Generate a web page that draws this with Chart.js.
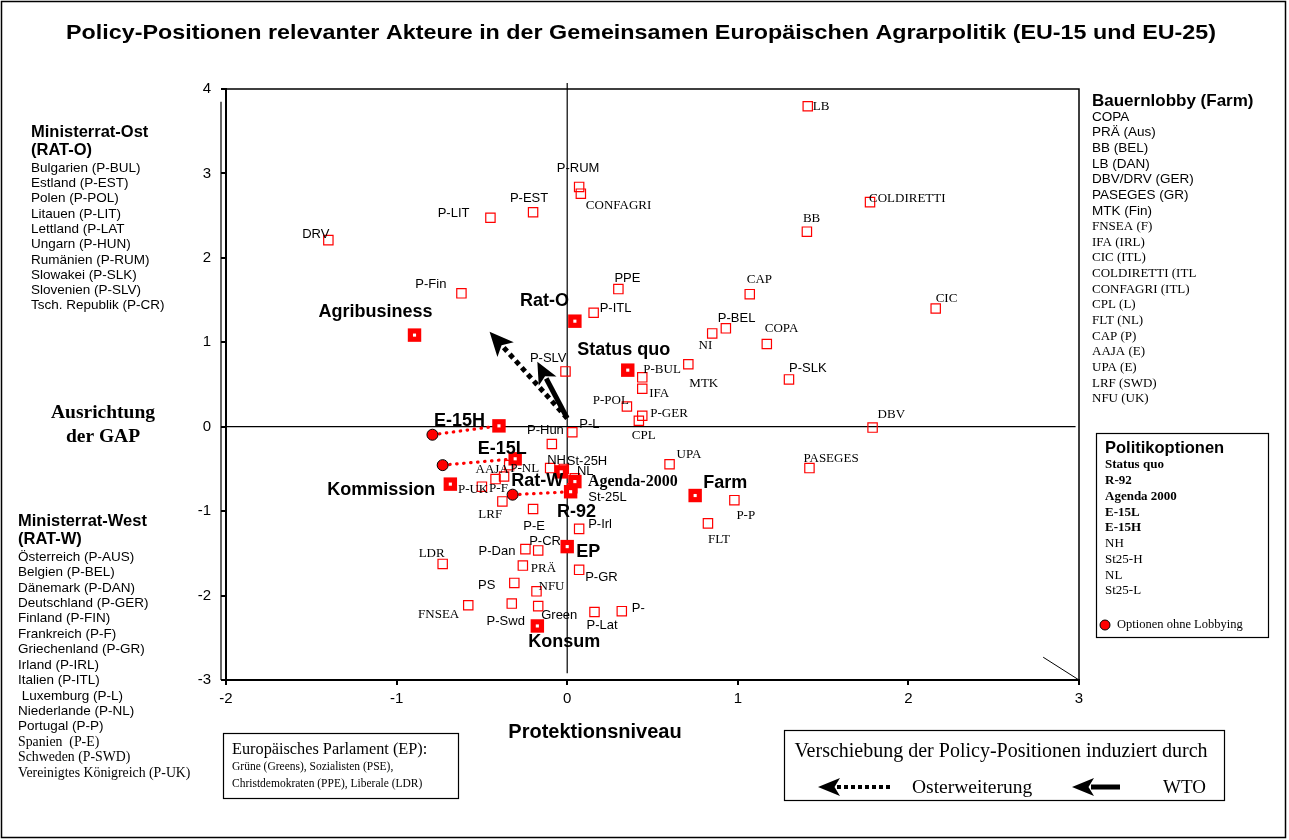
<!DOCTYPE html>
<html>
<head>
<meta charset="utf-8">
<script src="https://cdn.jsdelivr.net/npm/chart.js@4.4.0/dist/chart.umd.min.js"></script>
<style>
  body { margin: 0; background: #fff; }
  #wrap { width: 1289px; height: 840px; position: relative; }
</style>
</head>
<body>
<div id="wrap"><canvas id="policy-chart" width="1289" height="840"></canvas></div>
<script>
// Akteure (kleine Quadrate)
const actorNames = ['DRV', 'P-LIT', 'P-EST', 'P-RUM', 'CONFAGRI', 'P-Fin', 'PPE', 'P-ITL', 'LB', 'COLDIRETTI',
    'BB', 'CAP', 'CIC', 'P-BEL', 'NI', 'COPA', 'MTK', 'P-BUL', 'IFA', 'P-SLK',
    'DBV', 'UPA', 'PASEGES', 'P-P', 'FLT', 'P-GER', 'CPL', 'P-POL', 'P-SLV', 'P-L',
    'P-Hun', 'P-NL', 'NH', 'St-25H', 'NL', 'St-25L', 'P-UK', 'AAJA', 'P-F', 'LRF',
    'P-E', 'P-Irl', 'P-CR', 'P-Dan', 'LDR', 'PRÄ', 'P-GR', 'PS', 'NFU', 'FNSEA',
    'P-Swd', 'Green', 'P-Lat', 'P-'];
const actorX = [-1.40, -0.45, -0.20, 0.07, 0.08, -0.62, 0.30, 0.155, 1.41, 1.775,
    1.405, 1.07, 2.16, 0.93, 0.85, 1.17, 0.71, 0.44, 0.44, 1.30,
    1.79, 0.60, 1.42, 0.98, 0.825, 0.44, 0.42, 0.35, -0.01, 0.03,
    -0.09, -0.34, -0.10, -0.02, 0.045, 0.03, -0.50, -0.42, -0.37, -0.38,
    -0.20, 0.07, -0.17, -0.245, -0.73, -0.26, 0.07, -0.31, -0.18, -0.58,
    -0.325, -0.17, 0.16, 0.32];
const actorY = [2.21, 2.475, 2.54, 2.84, 2.76, 1.58, 1.63, 1.35, 3.795, 2.66,
    2.31, 1.57, 1.40, 1.165, 1.105, 0.98, 0.74, 0.585, 0.45, 0.56,
    -0.01, -0.445, -0.49, -0.87, -1.145, 0.13, 0.07, 0.24, 0.655, -0.065,
    -0.205, -0.455, -0.49, -0.50, -0.61, -0.73, -0.71, -0.62, -0.59, -0.885,
    -0.975, -1.21, -1.465, -1.45, -1.625, -1.645, -1.695, -1.85, -1.95, -2.115,
    -2.095, -2.125, -2.195, -2.185];

// Politikoptionen und Gruppen (große Quadrate)
const optionNames = ['Agribusiness', 'Rat-O', 'Status quo', 'E-15H', 'E-15L', 'Rat-W', 'Agenda-2000', 'R-92',
    'Kommission', 'Farm', 'EP', 'Konsum'];
const optionX = [-0.895, 0.045, 0.355, -0.40, -0.305, -0.035, 0.045, 0.02, -0.685, 0.75, 0.0, -0.175];
const optionY = [1.085, 1.25, 0.67, 0.01, -0.38, -0.535, -0.65, -0.77, -0.68, -0.815, -1.42, -2.36];

// Optionen ohne Lobbying (Kreise)
const noLobbyNames = ['E-15H', 'E-15L', 'R-92'];
const noLobbyX = [-0.79, -0.73, -0.32];
const noLobbyY = [-0.095, -0.455, -0.805];

// Verschiebung durch Osterweiterung / WTO
const shiftStart = [0, 0.10];
const osterTip = [-0.455, 1.125];
const wtoTip = [-0.175, 0.77];

const cornerMarkX = [2.79, 3.0];
const cornerMarkY = [-2.73, -3.0];

const xTicks = [-2, -1, 0, 1, 2, 3];
const yTicks = [-3, -2, -1, 0, 1, 2, 3, 4];

const ratOst = ['Bulgarien (P-BUL)', 'Estland (P-EST)', 'Polen (P-POL)', 'Litauen (P-LIT)', 'Lettland (P-LAT',
    'Ungarn (P-HUN)', 'Rumänien (P-RUM)', 'Slowakei (P-SLK)', 'Slovenien (P-SLV)', 'Tsch. Republik (P-CR)'];
const ratWest = ['Österreich (P-AUS)', 'Belgien (P-BEL)', 'Dänemark (P-DAN)', 'Deutschland (P-GER)', 'Finland (P-FIN)',
    'Frankreich (P-F)', 'Griechenland (P-GR)', 'Irland (P-IRL)', 'Italien (P-ITL)', ' Luxemburg (P-L)',
    'Niederlande (P-NL)', 'Portugal (P-P)'];
const ratWestSerif = ['Spanien  (P-E)', 'Schweden (P-SWD)', 'Vereinigtes Königreich (P-UK)'];
const farmSans = ['COPA', 'PRÄ (Aus)', 'BB (BEL)', 'LB (DAN)', 'DBV/DRV (GER)', 'PASEGES (GR)', 'MTK (Fin)'];
const farmSerif = ['FNSEA (F)', 'IFA (IRL)', 'CIC (ITL)', 'COLDIRETTI (ITL', 'CONFAGRI (ITL)', 'CPL (L)', 'FLT (NL)',
    'CAP (P)', 'AAJA (E)', 'UPA (E)', 'LRF (SWD)', 'NFU (UK)'];
const optLegendBold = ['Status quo', 'R-92', 'Agenda 2000', 'E-15L', 'E-15H'];
const optLegendPlain = ['NH', 'St25-H', 'NL', 'St25-L'];

// label placement: dx, dy (px from the point), align, font kind
const labelPos = {
    'DRV': [1, -6, 'right', 's'], 'P-LIT': [-21, -4, 'right', 's'], 'P-EST': [-4, -14, 'center', 's'],
    'P-RUM': [-1, -19, 'center', 's'], 'CONFAGRI': [5, 12, 'left', 't'], 'P-Fin': [-15, -9, 'right', 's'],
    'PPE': [-4, -11, 'left', 's'], 'P-ITL': [6, -4, 'left', 's'], 'LB': [5, 0, 'left', 't'],
    'COLDIRETTI': [-1, -4, 'left', 't'], 'BB': [-4, -13, 'left', 't'], 'CAP': [-3, -15, 'left', 't'],
    'CIC': [0, -10, 'left', 't'], 'P-BEL': [-8, -10, 'left', 's'], 'NI': [0, 12, 'right', 't'],
    'COPA': [-2, -15, 'left', 't'], 'MTK': [1, 19, 'left', 't'], 'P-BUL': [1, -8, 'left', 't'],
    'IFA': [7, 5, 'left', 't'], 'P-SLK': [0, -11, 'left', 's'], 'DBV': [5, -13, 'left', 't'],
    'UPA': [7, -10, 'left', 't'], 'PASEGES': [-6, -10, 'left', 't'], 'P-P': [2, 15, 'left', 't'],
    'FLT': [0, 16, 'left', 't'], 'P-GER': [8, -2, 'left', 't'], 'CPL': [-7, 15, 'left', 't'],
    'P-POL': [2, -6, 'right', 't'], 'P-SLV': [1, -13, 'right', 's'], 'P-L': [7, -8, 'left', 's'],
    'P-Hun': [12, -14, 'right', 's'], 'P-NL': [1, 3, 'left', 't'], 'NH': [-3, -8, 'left', 's'],
    'St-25H': [3, -8, 'left', 's'], 'NL': [2, -7, 'left', 's'], 'St-25L': [16, 9, 'left', 's'],
    'P-UK': [-24, 3, 'left', 't'], 'AAJA': [-20, -9, 'left', 't'], 'P-F': [-15, 12, 'left', 't'],
    'LRF': [-24, 13, 'left', 't'], 'P-E': [1, 17, 'center', 's'], 'P-Irl': [9, -4, 'left', 's'],
    'P-CR': [-9, -9, 'left', 's'], 'P-Dan': [-10, 2, 'right', 's'], 'LDR': [-24, -10, 'left', 't'],
    'PRÄ': [8, 3, 'left', 't'], 'P-GR': [6, 8, 'left', 's'], 'PS': [-19, 3, 'right', 's'],
    'NFU': [2, -5, 'left', 't'], 'FNSEA': [-9, 9, 'right', 't'], 'P-Swd': [-6, 18, 'center', 's'],
    'Green': [3, 9, 'left', 's'], 'P-Lat': [-8, 13, 'left', 's'], 'P-': [10, -3, 'left', 's'],
    'Agribusiness': [-39, -23, 'center', 'B'], 'Rat-O': [-6, -20, 'right', 'B'],
    'Status quo': [-4, -20, 'center', 'B'], 'E-15H': [-14, -5, 'right', 'B'],
    'E-15L': [-13, -10, 'center', 'B'], 'Rat-W': [2, 9, 'right', 'B'],
    'Agenda-2000': [13, 0, 'left', 'T'], 'R-92': [6, 20, 'center', 'B'],
    'Kommission': [-15, 6, 'right', 'B'], 'Farm': [8, -12, 'left', 'B'],
    'EP': [9, 5, 'left', 'B'], 'Konsum': [27, 16, 'center', 'B']
};

const SANS = '"Liberation Sans", Arial, sans-serif';
const SERIF = '"Liberation Serif", "Times New Roman", serif';
const fonts = {
    s: '13px ' + SANS,
    t: '13px ' + SERIF,
    B: 'bold 18px ' + SANS,
    T: 'bold 16px ' + SERIF
};
const RED = '#ff0000';

function toPts(xs, ys) {
    return xs.map((x, i) => ({ x: x, y: ys[i] }));
}

function txt(ctx, s, x, y, font, align) {
    ctx.font = font;
    ctx.textAlign = align || 'left';
    ctx.textBaseline = 'middle';
    ctx.fillStyle = '#000';
    ctx.fillText(s, x, y);
}

// text stretched horizontally to a given width, centred on cx
function txtFit(ctx, s, cx, y, font, width) {
    ctx.save();
    ctx.font = font;
    const w = ctx.measureText(s).width;
    ctx.translate(cx, y);
    ctx.scale(width / w, 1);
    txt(ctx, s, 0, 0, font, 'center');
    ctx.restore();
}

function arrow(ctx, x0, y0, x1, y1, dash, width, headLen, headW) {
    const a = Math.atan2(y1 - y0, x1 - x0);
    const c = Math.cos(a), s = Math.sin(a);
    const bx = x1 - headLen * c, by = y1 - headLen * s;
    ctx.save();
    ctx.strokeStyle = '#000';
    ctx.fillStyle = '#000';
    ctx.lineWidth = width;
    ctx.setLineDash(dash);
    ctx.beginPath();
    ctx.moveTo(x0, y0);
    ctx.lineTo(bx + 3 * c, by + 3 * s);
    ctx.stroke();
    ctx.setLineDash([]);
    ctx.beginPath();
    ctx.moveTo(x1, y1);
    ctx.lineTo(bx - headW * s, by + headW * c);
    ctx.lineTo(x1 - headLen * 0.75 * c, y1 - headLen * 0.75 * s);
    ctx.lineTo(bx + headW * s, by - headW * c);
    ctx.closePath();
    ctx.fill();
    ctx.restore();
}

const annotations = {
    id: 'annotations',
    beforeDatasetsDraw(chart) {
        const ctx = chart.ctx, xs = chart.scales.x, ys = chart.scales.y, area = chart.chartArea;
        ctx.save();
        ctx.strokeStyle = '#000';
        // frame of the whole picture
        ctx.lineWidth = 1.5;
        ctx.strokeRect(1.5, 1.5, 1284, 836);
        // top and right border of the plot
        ctx.lineWidth = 1.5;
        ctx.beginPath();
        ctx.moveTo(area.left, area.top);
        ctx.lineTo(area.right, area.top);
        ctx.lineTo(area.right, area.bottom);
        ctx.stroke();
        // second line of the y axis
        ctx.lineWidth = 1.2;
        ctx.beginPath();
        ctx.moveTo(area.left - 5, ys.getPixelForValue(3.85));
        ctx.lineTo(area.left - 5, area.bottom);
        ctx.stroke();
        // cross lines through the origin
        ctx.lineWidth = 1.2;
        ctx.beginPath();
        ctx.moveTo(xs.getPixelForValue(0), ys.getPixelForValue(4.07));
        ctx.lineTo(xs.getPixelForValue(0), ys.getPixelForValue(-2.92));
        ctx.moveTo(xs.getPixelForValue(-2), ys.getPixelForValue(0));
        ctx.lineTo(xs.getPixelForValue(2.98), ys.getPixelForValue(0));
        ctx.stroke();
        ctx.restore();
    },
    afterDatasetsDraw(chart) {
        const ctx = chart.ctx, xs = chart.scales.x, ys = chart.scales.y;
        const px = v => xs.getPixelForValue(v), py = v => ys.getPixelForValue(v);

        // shift arrows
        arrow(ctx, px(shiftStart[0]), py(shiftStart[1]), px(osterTip[0]), py(osterTip[1]), [5, 4], 5, 24, 11);
        arrow(ctx, px(shiftStart[0]), py(shiftStart[1]), px(wtoTip[0]), py(wtoTip[1]), [], 5, 22, 10);

        // point labels
        const put = (names, xsArr, ysArr) => names.forEach((n, i) => {
            const p = labelPos[n];
            if (!p) return;
            txt(ctx, n, px(xsArr[i]) + p[0], py(ysArr[i]) + p[1], fonts[p[3]], p[2]);
        });
        put(actorNames, actorX, actorY);
        put(optionNames, optionX, optionY);
    },
    afterDraw(chart) {
        const ctx = chart.ctx;
        ctx.save();
        // title
        txtFit(ctx, 'Policy-Positionen relevanter Akteure in der Gemeinsamen Europäischen Agrarpolitik (EU-15 und EU-25)',
            641, 33, 'bold 21px ' + SANS, 1150);

        // Ministerrat-Ost
        txt(ctx, 'Ministerrat-Ost', 31, 132, 'bold 16.5px ' + SANS);
        txt(ctx, '(RAT-O)', 31, 150, 'bold 16.5px ' + SANS);
        ratOst.forEach((s, i) => txt(ctx, s, 31, 168 + i * 15.3, '13.5px ' + SANS));

        // Ausrichtung der GAP
        txt(ctx, 'Ausrichtung', 103, 413, 'bold 19.5px ' + SERIF, 'center');
        txt(ctx, 'der GAP', 103, 437, 'bold 19.5px ' + SERIF, 'center');

        // Ministerrat-West
        txt(ctx, 'Ministerrat-West', 18, 521, 'bold 16.5px ' + SANS);
        txt(ctx, '(RAT-W)', 18, 539, 'bold 16.5px ' + SANS);
        ratWest.forEach((s, i) => txt(ctx, s, 18, 557 + i * 15.43, '13.5px ' + SANS));
        ratWestSerif.forEach((s, i) => txt(ctx, s, 18, 557 + (i + ratWest.length) * 15.43, '13.8px ' + SERIF));

        // Bauernlobby
        txt(ctx, 'Bauernlobby (Farm)', 1092, 101, 'bold 17px ' + SANS);
        farmSans.forEach((s, i) => txt(ctx, s, 1092, 117 + i * 15.67, '13.5px ' + SANS));
        farmSerif.forEach((s, i) => txt(ctx, s, 1092, 117 + (i + farmSans.length) * 15.67, '13px ' + SERIF));

        // Politikoptionen box
        ctx.strokeStyle = '#000';
        ctx.lineWidth = 1.2;
        ctx.strokeRect(1096.5, 433.5, 172, 204);
        txt(ctx, 'Politikoptionen', 1105, 448, 'bold 16.5px ' + SANS);
        optLegendBold.forEach((s, i) => txt(ctx, s, 1105, 465 + i * 15.75, 'bold 13px ' + SERIF));
        optLegendPlain.forEach((s, i) => txt(ctx, s, 1105, 465 + (i + optLegendBold.length) * 15.75, '13px ' + SERIF));
        ctx.beginPath();
        ctx.arc(1105, 625, 5, 0, Math.PI * 2);
        ctx.fillStyle = RED;
        ctx.fill();
        ctx.lineWidth = 1;
        ctx.stroke();
        txt(ctx, 'Optionen ohne Lobbying', 1117, 625, '12.5px ' + SERIF);

        // axis title
        txt(ctx, 'Protektionsniveau', 595, 732, 'bold 20px ' + SANS, 'center');

        // EP box
        ctx.lineWidth = 1.2;
        ctx.strokeRect(223.5, 733.5, 235, 65);
        txt(ctx, 'Europäisches Parlament (EP):', 232, 750, '16.3px ' + SERIF);
        txt(ctx, 'Grüne (Greens), Sozialisten (PSE),', 232, 767, '11.5px ' + SERIF);
        txt(ctx, 'Christdemokraten (PPE), Liberale (LDR)', 232, 784, '11.5px ' + SERIF);

        // shift legend box
        ctx.strokeRect(784.5, 730.5, 440, 70);
        txt(ctx, 'Verschiebung der Policy-Positionen induziert durch', 1001, 752, '20px ' + SERIF, 'center');
        arrow(ctx, 890, 787, 818, 787, [4, 3], 4, 22, 9);
        txt(ctx, 'Osterweiterung', 912, 788, '19.5px ' + SERIF);
        arrow(ctx, 1120, 787, 1072, 787, [], 5, 22, 9);
        txt(ctx, 'WTO', 1163, 788, '19px ' + SERIF);
        ctx.restore();
    }
};

const datasets = [
    { // white centre of the option squares
        data: toPts(optionX, optionY), pointStyle: 'rect', pointRadius: 2.2,
        backgroundColor: '#ffffff', borderWidth: 0, order: 0
    },
    {
        data: toPts(optionX, optionY), pointStyle: 'rect', pointRadius: 9.5,
        backgroundColor: RED, borderColor: RED, borderWidth: 0, order: 1
    },
    {
        data: toPts(noLobbyX, noLobbyY), pointStyle: 'circle', pointRadius: 5.5,
        backgroundColor: RED, borderColor: '#000', borderWidth: 1, order: 2
    },
    {
        data: toPts(actorX, actorY), pointStyle: 'rect', pointRadius: 6.6,
        backgroundColor: 'rgba(0,0,0,0)', borderColor: RED, borderWidth: 1.2, order: 3
    },
    {
        data: toPts(cornerMarkX, cornerMarkY), showLine: true, pointRadius: 0,
        borderColor: '#000', borderWidth: 1, order: 5
    }
];

// dotted lines from the option without lobbying to the option with lobbying
noLobbyNames.forEach((n, i) => {
    const k = optionNames.indexOf(n);
    datasets.push({
        data: [{ x: noLobbyX[i], y: noLobbyY[i] }, { x: optionX[k], y: optionY[k] }],
        showLine: true, pointRadius: 0, borderColor: RED, borderWidth: 3.2,
        borderDash: [0.5, 6.5], borderCapStyle: 'round', order: 4
    });
});

const ctx = document.getElementById('policy-chart').getContext('2d');
const policyChart = new Chart(ctx, {
    type: 'scatter',
    data: { datasets: datasets },
    options: {
        responsive: false,
        animation: false,
        events: [],
        layout: { padding: { left: 186, right: 210, top: 89, bottom: 120 } },
        plugins: { legend: { display: false }, tooltip: { enabled: false }, title: { display: false } },
        scales: {
            x: {
                type: 'linear', min: xTicks[0], max: xTicks[xTicks.length - 1],
                afterFit: s => { s.height = 40; },
                afterBuildTicks: s => { s.ticks = xTicks.map(v => ({ value: v })); },
                grid: { drawOnChartArea: false, drawTicks: true, tickLength: 5, color: '#000', lineWidth: 2 },
                border: { display: true, color: '#000', width: 2 },
                ticks: { color: '#000', font: { family: SANS, size: 15 }, padding: 5, maxRotation: 0 }
            },
            y: {
                type: 'linear', min: yTicks[0], max: yTicks[yTicks.length - 1],
                afterFit: s => { s.width = 40; },
                afterBuildTicks: s => { s.ticks = yTicks.map(v => ({ value: v })); },
                grid: { drawOnChartArea: false, drawTicks: true, tickLength: 5, color: '#000', lineWidth: 2 },
                border: { display: true, color: '#000', width: 2 },
                ticks: { color: '#000', font: { family: SANS, size: 15 }, padding: 10 }
            }
        }
    },
    plugins: [annotations]
});
</script>
</body>
</html>
